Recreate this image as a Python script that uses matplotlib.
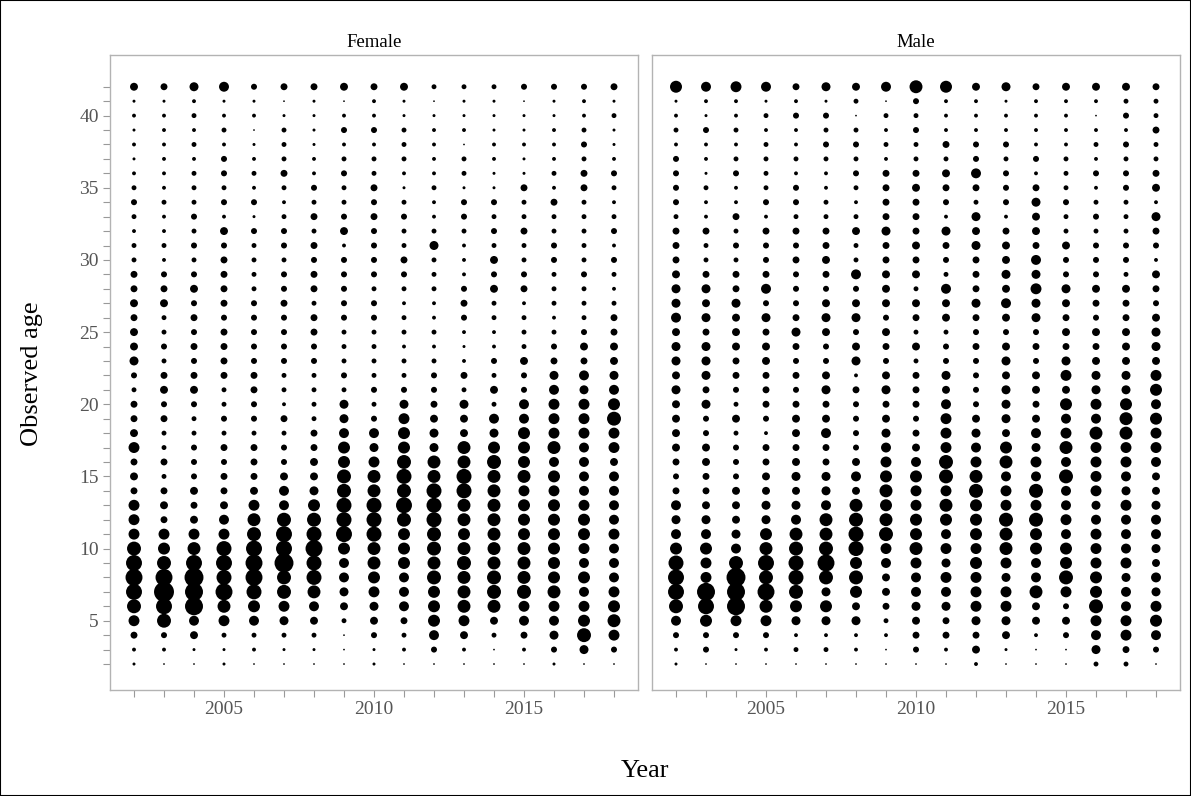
import numpy as np
import matplotlib
matplotlib.use("Agg")
import matplotlib.pyplot as plt
from matplotlib.patches import Rectangle

# Observed age composition (% of sampled fish), rows are ages 42 down to 2,
# columns are survey years 2002-2018.
years = list(range(2002, 2019))
ages = list(range(42, 1, -1))
panels = ["Female", "Male"]

female_pct = [
    [2.1,1.6,2.7,3.3,1.2,1.6,1.6,2.1,1.6,2.1,0.8,0.8,0.8,1.2,1.2,1.2,1.6],  # 42+
    [0.3,0.3,0.5,0.3,0.3,0.1,0.3,0.1,0.5,0.3,0.1,0.3,0.3,0.1,0.3,0.5,0.3],
    [0.5,0.5,0.8,0.5,0.5,0.3,0.3,0.5,0.5,0.3,0.3,0.3,0.3,0.3,0.3,0.5,0.8],
    [0.3,0.5,0.5,0.8,0.1,0.8,0.3,1.2,1.2,0.8,0.5,0.5,0.3,0.3,0.5,0.8,0.3],
    [0.5,0.5,0.8,0.5,0.3,0.8,0.3,0.5,0.5,0.8,0.5,0.1,0.5,0.5,0.5,1.2,0.3],
    [0.3,0.5,0.5,1.2,0.5,0.8,0.5,0.8,0.8,0.8,0.5,0.8,0.5,0.3,0.5,0.8,0.5],
    [0.5,0.5,0.8,1.2,0.8,1.6,0.5,1.2,0.8,0.5,0.5,0.8,0.3,0.3,0.8,1.6,1.2],
    [0.8,0.5,0.8,0.8,0.5,0.8,1.2,0.8,1.6,0.3,0.8,0.3,0.3,1.6,0.5,1.6,0.8],
    [1.2,0.8,0.8,1.2,1.2,0.5,0.8,0.8,1.2,0.8,0.5,1.2,1.2,0.8,1.6,0.8,0.5],
    [0.8,0.5,1.2,0.5,0.3,0.8,1.6,1.2,1.6,1.2,0.5,1.2,0.8,0.8,0.8,0.8,0.8],
    [0.5,0.5,0.8,2.1,1.2,1.2,0.8,2.1,1.2,0.8,0.8,0.8,1.2,1.6,0.8,0.8,1.2],
    [0.8,0.8,1.2,1.2,0.8,1.2,1.6,0.5,1.2,0.8,2.7,0.5,0.8,0.8,1.2,0.8,0.5],
    [0.8,0.5,0.8,1.6,0.8,0.8,1.2,1.2,1.2,1.6,0.8,0.5,2.1,0.8,1.2,0.8,1.2],
    [1.6,1.2,1.2,1.6,0.8,1.2,1.6,1.2,1.2,1.2,0.8,0.5,1.2,1.2,0.8,1.2,0.8],
    [1.6,1.6,2.1,1.6,0.8,1.2,1.6,1.2,0.8,0.8,0.8,1.2,2.1,1.6,0.8,0.8,0.5],
    [2.1,2.1,1.2,1.6,1.2,1.6,0.8,1.2,1.2,0.5,0.5,1.6,0.8,0.5,0.8,0.8,0.8],
    [1.6,0.8,1.6,1.2,1.2,1.2,1.6,1.2,1.2,0.8,0.5,1.2,0.8,0.8,0.5,0.8,1.6],
    [2.1,0.8,1.2,1.6,1.2,1.2,1.6,0.8,0.8,0.8,0.8,0.5,0.5,0.8,0.8,1.2,1.6],
    [2.1,1.2,1.6,1.6,1.2,1.2,1.2,0.8,0.8,0.5,0.5,0.3,0.5,0.8,1.2,2.1,2.1],
    [2.7,0.8,1.2,1.6,1.2,1.2,1.2,0.8,0.8,0.8,0.8,0.5,1.2,2.1,1.6,1.6,2.1],
    [1.2,1.6,1.6,1.6,1.6,0.8,0.8,1.2,0.8,0.8,1.2,1.6,0.8,1.2,2.7,3.3,2.7],
    [0.8,2.1,2.1,0.8,1.6,0.8,0.8,0.8,1.2,1.2,1.2,0.8,2.1,1.2,3.3,2.7,3.3],
    [1.6,1.2,1.2,0.8,1.2,0.5,0.8,2.7,0.8,2.7,1.6,2.7,0.8,3.3,4.0,4.0,4.8],
    [1.6,1.6,0.8,1.2,1.2,1.6,0.8,2.7,1.2,4.0,2.1,2.1,3.3,3.3,4.0,4.0,6.5],
    [2.1,0.8,0.8,0.8,0.8,0.8,1.6,3.3,3.3,4.8,2.7,2.1,2.7,4.8,4.0,4.0,4.0],
    [4.0,0.8,1.2,1.6,1.6,1.2,1.6,4.8,2.7,4.8,2.7,5.6,4.8,4.8,5.6,3.3,4.0],
    [1.6,1.6,1.2,1.2,1.6,1.2,2.1,4.8,4.0,6.5,5.6,5.6,6.5,4.8,3.3,3.3,2.1],
    [2.1,0.8,1.2,1.6,1.6,2.1,2.1,6.5,5.6,7.5,5.6,7.5,5.6,5.6,4.8,3.3,3.3],
    [1.6,1.6,2.1,1.6,2.1,3.3,2.7,6.5,5.6,6.5,7.5,7.5,5.6,4.0,4.0,3.3,3.3],
    [4.0,2.1,1.6,2.1,4.0,3.3,4.8,7.5,7.5,8.5,7.5,5.6,5.6,4.8,4.8,4.0,3.3],
    [4.0,1.6,2.1,3.3,5.6,6.5,6.5,7.5,7.5,6.5,7.5,5.6,5.6,4.8,4.8,4.8,3.3],
    [4.0,4.0,4.0,4.0,6.5,8.5,7.5,8.5,7.5,4.8,6.5,4.8,5.6,4.8,4.8,4.8,4.0],
    [6.5,4.8,5.6,7.5,8.5,8.5,9.6,4.8,5.6,4.8,6.5,5.6,5.6,5.6,4.8,4.0,3.3],
    [8.5,6.5,8.5,8.5,9.6,12.0,7.5,3.3,5.6,4.8,5.6,6.5,5.6,5.6,4.8,3.3,3.3],
    [9.6,9.6,12.0,7.5,9.6,6.5,7.5,3.3,4.8,3.3,6.5,5.6,6.5,5.6,4.8,4.8,3.3],
    [8.5,13.3,10.8,9.6,7.5,6.5,5.6,2.7,4.0,3.3,4.8,5.6,6.5,6.5,5.6,3.3,4.0],
    [6.5,8.5,10.8,5.6,4.8,4.0,3.3,2.1,2.7,3.3,4.8,5.6,5.6,4.0,4.0,4.0,4.8],
    [4.0,6.5,3.3,4.0,3.3,2.7,2.1,0.8,2.1,1.6,4.8,4.0,2.1,3.3,3.3,4.8,5.6],
    [1.6,1.2,2.1,0.8,0.8,0.8,0.8,0.1,1.2,0.8,3.3,2.1,0.8,1.6,2.7,6.5,4.0],
    [0.5,0.5,0.3,0.3,0.5,0.3,0.3,0.1,0.3,0.5,1.2,0.5,0.1,0.5,1.2,2.7,1.2],
    [0.3,0.1,0.1,0.3,0.1,0.1,0.1,0.1,0.3,0.1,0.1,0.1,0.1,0.1,0.3,0.1,0.1],  # 2
]

male_pct = [
    [4.8,3.3,4.0,3.3,1.6,2.7,2.1,3.3,5.6,4.8,2.1,2.7,1.6,2.1,2.1,2.1,1.6],  # 42+
    [0.3,0.5,0.5,0.3,0.5,0.3,0.8,0.1,1.2,0.5,0.5,0.3,0.5,0.5,0.5,0.8,0.8],
    [0.5,0.3,0.5,0.8,1.2,1.2,0.1,0.8,0.8,0.5,0.5,0.5,0.5,0.5,0.1,1.2,0.8],
    [0.8,1.2,0.8,0.5,0.5,0.8,0.8,0.5,1.2,0.5,0.5,0.5,0.5,0.5,0.5,0.5,1.6],
    [0.5,0.5,0.5,0.8,0.5,1.2,1.2,0.8,0.8,1.6,1.2,1.2,0.5,0.5,0.8,1.2,0.8],
    [1.2,0.5,0.8,0.8,0.8,0.8,0.8,0.5,0.8,0.8,1.2,0.8,1.2,0.8,0.5,0.8,0.8],
    [1.2,0.3,1.2,0.8,0.5,0.5,1.2,1.6,1.6,2.1,3.3,1.2,0.5,0.8,1.2,1.2,1.6],
    [1.2,0.8,0.5,0.8,1.2,0.5,0.8,1.6,2.1,1.6,1.6,1.2,1.6,0.8,0.5,1.2,2.1],
    [1.2,0.5,0.5,1.2,1.2,0.8,0.5,1.6,1.6,1.2,0.8,1.2,2.7,1.2,0.8,0.8,0.5],
    [0.8,0.5,1.6,0.5,0.8,0.8,0.8,1.6,1.6,0.5,2.7,0.5,2.1,0.8,1.2,0.8,2.7],
    [1.6,1.6,0.8,1.6,1.6,1.6,2.1,2.7,1.6,2.7,2.1,1.6,2.1,0.8,0.8,0.8,1.6],
    [1.6,0.8,1.2,1.2,1.2,1.6,0.8,1.6,2.1,1.6,2.7,2.1,1.6,2.1,1.2,1.2,1.2],
    [1.6,0.8,0.8,1.2,1.6,2.1,0.8,1.6,1.6,1.2,1.6,2.1,3.3,1.2,1.2,1.2,0.5],
    [2.1,1.6,1.6,1.6,1.2,1.6,3.3,2.1,2.1,0.8,1.6,2.7,2.7,1.2,1.2,0.8,2.1],
    [2.7,2.7,1.6,3.3,1.2,1.2,1.2,2.1,0.8,3.3,1.6,2.1,4.0,2.7,2.1,2.1,1.6],
    [2.7,2.1,2.7,1.2,1.2,2.1,2.1,2.1,2.1,2.1,2.7,3.3,2.7,2.1,1.6,1.6,1.2],
    [3.3,2.7,2.1,2.7,1.6,2.7,2.7,1.2,1.6,2.1,1.6,2.1,2.7,1.6,1.2,1.6,2.1],
    [2.1,1.6,2.1,1.6,2.7,2.1,1.2,2.1,0.8,0.8,1.2,1.2,1.2,2.1,2.1,2.1,2.7],
    [2.7,2.7,2.1,2.1,1.6,1.2,2.1,1.6,2.1,1.2,1.6,2.1,1.6,1.6,1.6,2.1,2.7],
    [2.7,2.7,1.6,2.1,1.2,1.2,2.7,1.2,0.8,1.2,1.2,2.7,1.2,2.7,2.1,2.1,2.1],
    [2.1,2.7,1.6,1.6,1.6,2.1,0.5,2.1,1.6,2.7,1.2,2.1,2.1,4.0,2.7,2.7,4.0],
    [2.7,1.6,1.2,1.6,1.2,2.7,1.6,2.7,1.6,2.1,1.2,2.7,2.1,2.1,2.7,2.7,4.8],
    [2.1,2.7,0.8,1.6,1.6,1.6,1.2,1.6,1.6,3.3,1.2,2.7,1.6,4.8,4.0,4.8,3.3],
    [2.1,1.2,2.1,1.2,2.1,2.1,1.2,2.1,1.2,4.0,2.1,2.7,2.1,3.3,3.3,5.6,4.8],
    [2.1,1.2,0.8,0.5,2.1,3.3,1.2,2.7,1.6,4.0,2.7,2.1,3.3,4.0,5.6,5.6,4.0],
    [2.1,2.1,1.2,1.6,1.6,1.6,1.2,3.3,2.1,4.0,3.3,4.8,2.7,5.6,4.0,4.0,4.0],
    [1.6,2.1,1.2,1.6,2.1,1.6,2.1,4.0,3.3,6.5,4.0,5.6,4.0,3.3,4.0,4.0,3.3],
    [1.2,1.6,1.2,2.1,2.7,2.7,3.3,4.8,4.8,6.5,5.6,3.3,3.3,6.5,4.0,3.3,2.1],
    [1.6,1.6,2.1,2.1,2.1,2.7,2.1,5.6,4.0,4.0,6.5,4.0,6.5,3.3,4.0,2.7,2.1],
    [3.3,2.1,2.1,2.7,2.7,3.3,5.6,4.8,4.0,5.6,4.8,4.0,4.0,3.3,2.7,4.0,2.7],
    [2.7,2.7,2.1,2.7,3.3,5.6,6.5,5.6,4.8,4.8,4.8,6.5,6.5,4.0,3.3,3.3,3.3],
    [3.3,3.3,2.7,4.8,5.6,5.6,7.5,6.5,4.8,3.3,4.8,5.6,4.8,3.3,4.0,3.3,3.3],
    [4.8,4.8,3.3,5.6,6.5,6.5,7.5,4.0,5.6,4.0,4.0,5.6,4.8,4.8,4.0,3.3,2.7],
    [7.5,4.0,6.5,8.5,7.5,9.6,4.8,3.3,4.0,2.7,4.8,4.0,3.3,4.8,4.0,4.0,2.1],
    [8.5,4.0,12.0,6.5,7.5,6.5,6.5,2.1,3.3,4.0,4.0,2.7,3.3,6.5,4.8,2.7,3.3],
    [8.5,10.8,10.8,9.6,6.5,2.7,4.8,2.1,3.3,3.3,4.0,4.0,5.6,4.0,4.8,3.3,2.7],
    [6.5,8.5,10.8,5.6,4.8,4.8,2.1,1.6,2.7,2.7,4.0,4.0,2.1,1.2,6.5,3.3,4.0],
    [3.3,4.8,4.0,4.0,2.7,2.7,2.7,0.8,2.1,1.6,2.7,2.7,2.1,2.1,4.0,4.0,4.8],
    [1.2,1.2,1.2,1.2,0.5,0.5,0.5,0.5,1.6,1.6,1.6,2.1,0.5,1.2,3.3,4.0,3.3],
    [0.5,1.2,0.3,0.5,0.8,0.8,0.5,0.1,1.2,0.5,2.1,0.3,0.1,0.1,2.7,1.6,1.2],
    [0.3,0.1,0.1,0.1,0.1,0.1,0.1,0.1,0.1,0.1,0.5,0.1,0.1,0.1,0.8,0.8,0.1],  # 2
]

y_major = [5, 10, 15, 20, 25, 30, 35, 40]
x_major = [2005, 2010, 2015]

serif = ["Liberation Serif", "DejaVu Serif"]
plt.rcParams["font.family"] = serif

W, H = 1191, 796
fig = plt.figure(figsize=(W / 100, H / 100), dpi=100)
fig.patch.set_facecolor("white")

# panel rectangles in pixel space (left, top, right, bottom)
boxes = [(110, 55, 638, 690), (652, 55, 1180, 690)]
point_scale = 15.5  # marker area (pt^2) per percent

grid_year, grid_age = np.meshgrid(years, ages)

for i, (name, data, box) in enumerate(zip(panels, [female_pct, male_pct], boxes)):
    l, t, r, b = box
    ax = fig.add_axes([l / W, 1 - b / H, (r - l) / W, (b - t) / H])
    vals = np.array(data)
    ax.scatter(grid_year.ravel(), grid_age.ravel(), s=vals.ravel() * point_scale,
               c="black", edgecolors="none", zorder=3)
    ax.set_xlim(2001.2, 2018.8)
    ax.set_ylim(0.2, 44.2)
    for sp in ax.spines.values():
        sp.set_color("#b3b3b3")
        sp.set_linewidth(1.0)
    ax.set_xticks(years, minor=True)
    ax.set_xticks(x_major)
    ax.set_xticklabels([str(x) for x in x_major])
    ax.tick_params(axis="x", which="both", length=5, width=0.8, color="#999999",
                   labelsize=14, labelcolor="#555555", pad=3)
    if i == 0:
        ax.set_yticks(list(range(2, 43)), minor=True)
        ax.set_yticks(y_major)
        ax.set_yticklabels([str(y) for y in y_major])
        ax.tick_params(axis="y", which="both", length=5, width=0.8, color="#999999",
                       labelsize=14, labelcolor="#555555", pad=3)
    else:
        ax.set_yticks([])
        ax.set_yticks([], minor=True)
    ax.set_title(name, fontsize=13.5, color="black", pad=6)

fig.text(32 / W, 1 - 374 / H, "Observed age", rotation=90, ha="center", va="center",
         fontsize=19, color="black")
fig.text(645 / W, 1 - 771 / H, "Year", ha="center", va="center",
         fontsize=19, color="black")

# thin frame around the whole figure
fig.add_artist(Rectangle((0, 0), 1, 1, transform=fig.transFigure, fill=False,
                         edgecolor="black", linewidth=1.5))

fig.savefig("out.png", dpi=100, facecolor="white")
